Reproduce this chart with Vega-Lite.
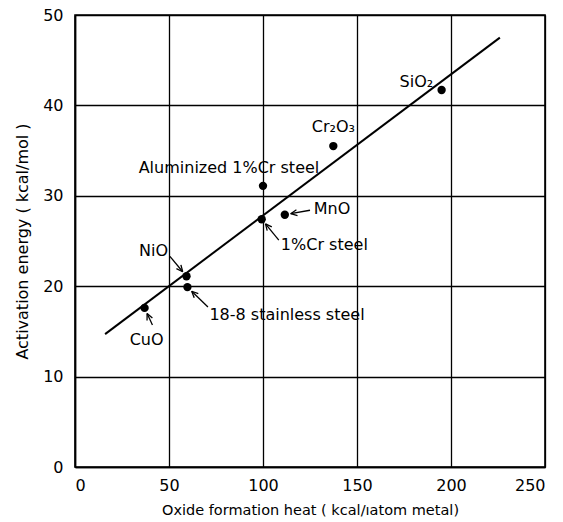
{
  "$schema": "https://vega.github.io/schema/vega-lite/v6.json",
  "width": 470,
  "height": 452,
  "autosize": {"type": "none"},
  "padding": {"left": 75, "top": 15, "right": 18, "bottom": 55},
  "background": "white",
  "config": {
    "font": "DejaVu Sans",
    "view": {"stroke": "black", "strokeWidth": 1.6},
    "axis": {
      "domainColor": "black",
      "domainWidth": 1.6,
      "ticks": false,
      "grid": true,
      "gridColor": "black",
      "gridOpacity": 1,
      "gridWidth": 1.3,
      "labelColor": "black",
      "labelFontSize": 16,
      "labelFont": "DejaVu Sans",
      "titleColor": "black",
      "titleFont": "DejaVu Sans",
      "titleFontSize": 14,
      "titleFontWeight": "normal"
    }
  },
  "datasets": {
    "points": [
      {"oxide": "SiO₂", "heat": 195, "energy": 41.7},
      {"oxide": "Cr₂O₃", "heat": 137.4, "energy": 35.5},
      {"oxide": "Aluminized 1%Cr steel", "heat": 100, "energy": 31.1},
      {"oxide": "1%Cr steel", "heat": 99.3, "energy": 27.4},
      {"oxide": "MnO", "heat": 111.6, "energy": 27.9},
      {"oxide": "NiO", "heat": 59.3, "energy": 21.1},
      {"oxide": "18-8 stainless steel", "heat": 59.8, "energy": 19.9},
      {"oxide": "CuO", "heat": 37, "energy": 17.6}
    ],
    "fit": [
      {"heat": 16, "energy": 14.7},
      {"heat": 226, "energy": 47.5}
    ],
    "arrows": [
      {"name": "MnO", "x": 125.0, "y": 28.40, "x2": 114.73, "y2": 28.02},
      {"name": "MnO", "x": 118.35, "y": 27.82, "x2": 114.73, "y2": 28.02},
      {"name": "MnO", "x": 117.77, "y": 28.46, "x2": 114.73, "y2": 28.02},
      {"name": "1%Cr steel", "x": 108.4, "y": 25.1, "x2": 101.33, "y2": 26.89},
      {"name": "1%Cr steel", "x": 102.23, "y": 26.14, "x2": 101.33, "y2": 26.89},
      {"name": "1%Cr steel", "x": 104.68, "y": 26.56, "x2": 101.33, "y2": 26.89},
      {"name": "NiO", "x": 50.5, "y": 23.3, "x2": 57.29, "y2": 21.60},
      {"name": "NiO", "x": 56.33, "y": 22.36, "x2": 57.29, "y2": 21.60},
      {"name": "NiO", "x": 53.94, "y": 21.94, "x2": 57.29, "y2": 21.60},
      {"name": "18-8 stainless steel", "x": 70.7, "y": 17.7, "x2": 62.07, "y2": 19.44},
      {"name": "18-8 stainless steel", "x": 63.40, "y": 18.72, "x2": 62.07, "y2": 19.44},
      {"name": "18-8 stainless steel", "x": 65.59, "y": 19.18, "x2": 62.07, "y2": 19.44},
      {"name": "CuO", "x": 41.2, "y": 15.7, "x2": 38.35, "y2": 16.99},
      {"name": "CuO", "x": 38.33, "y": 16.21, "x2": 38.35, "y2": 16.99},
      {"name": "CuO", "x": 41.17, "y": 16.49, "x2": 38.35, "y2": 16.99}
    ],
    "labels": [
      {"text": "SiO₂", "x": 190.5, "y": 42.6, "side": "right"},
      {"text": "Cr₂O₃", "x": 137.4, "y": 37.6, "side": "center"},
      {"text": "Aluminized 1%Cr steel", "x": 81.9, "y": 33.1, "side": "center"},
      {"text": "MnO", "x": 127, "y": 28.5, "side": "left"},
      {"text": "1%Cr steel", "x": 109.5, "y": 24.6, "side": "left"},
      {"text": "NiO", "x": 41.8, "y": 23.9, "side": "center"},
      {"text": "18-8 stainless steel", "x": 71.5, "y": 16.8, "side": "left"},
      {"text": "CuO", "x": 38.1, "y": 14.06, "side": "center"}
    ]
  },
  "layer": [
    {
      "data": {"name": "fit"},
      "mark": {"type": "line", "color": "black", "strokeWidth": 2},
      "encoding": {
        "x": {
          "field": "heat",
          "type": "quantitative",
          "scale": {"domain": [0, 250], "nice": false, "zero": false},
          "axis": {
            "values": [0, 50, 100, 150, 200, 250],
            "labelPadding": 10,
            "title": "Oxide formation heat ( kcal/ıatom metal)",
            "titleFontSize": 14.5,
            "titlePadding": 10
          }
        },
        "y": {
          "field": "energy",
          "type": "quantitative",
          "scale": {"domain": [0, 50], "nice": false, "zero": false},
          "axis": {
            "values": [0, 10, 20, 30, 40, 50],
            "labelPadding": 12,
            "title": "Activation energy ( kcal/mol )",
            "titleFontSize": 16,
            "titlePadding": 12
          }
        }
      }
    },
    {
      "data": {"name": "arrows"},
      "mark": {"type": "rule", "color": "black", "strokeWidth": 1.3},
      "encoding": {
        "x": {"field": "x", "type": "quantitative"},
        "y": {"field": "y", "type": "quantitative"},
        "x2": {"field": "x2"},
        "y2": {"field": "y2"}
      }
    },
    {
      "data": {"name": "points"},
      "mark": {"type": "point", "filled": true, "color": "black", "opacity": 1, "size": 70},
      "encoding": {
        "x": {"field": "heat", "type": "quantitative"},
        "y": {"field": "energy", "type": "quantitative"}
      }
    },
    {
      "data": {"name": "labels"},
      "transform": [{"filter": "datum.side === 'left'"}],
      "mark": {"type": "text", "align": "left", "baseline": "middle", "fontSize": 16, "color": "black"},
      "encoding": {
        "x": {"field": "x", "type": "quantitative"},
        "y": {"field": "y", "type": "quantitative"},
        "text": {"field": "text"}
      }
    },
    {
      "data": {"name": "labels"},
      "transform": [{"filter": "datum.side === 'right'"}],
      "mark": {"type": "text", "align": "right", "baseline": "middle", "fontSize": 16, "color": "black"},
      "encoding": {
        "x": {"field": "x", "type": "quantitative"},
        "y": {"field": "y", "type": "quantitative"},
        "text": {"field": "text"}
      }
    },
    {
      "data": {"name": "labels"},
      "transform": [{"filter": "datum.side === 'center'"}],
      "mark": {"type": "text", "align": "center", "baseline": "middle", "fontSize": 16, "color": "black"},
      "encoding": {
        "x": {"field": "x", "type": "quantitative"},
        "y": {"field": "y", "type": "quantitative"},
        "text": {"field": "text"}
      }
    }
  ]
}
